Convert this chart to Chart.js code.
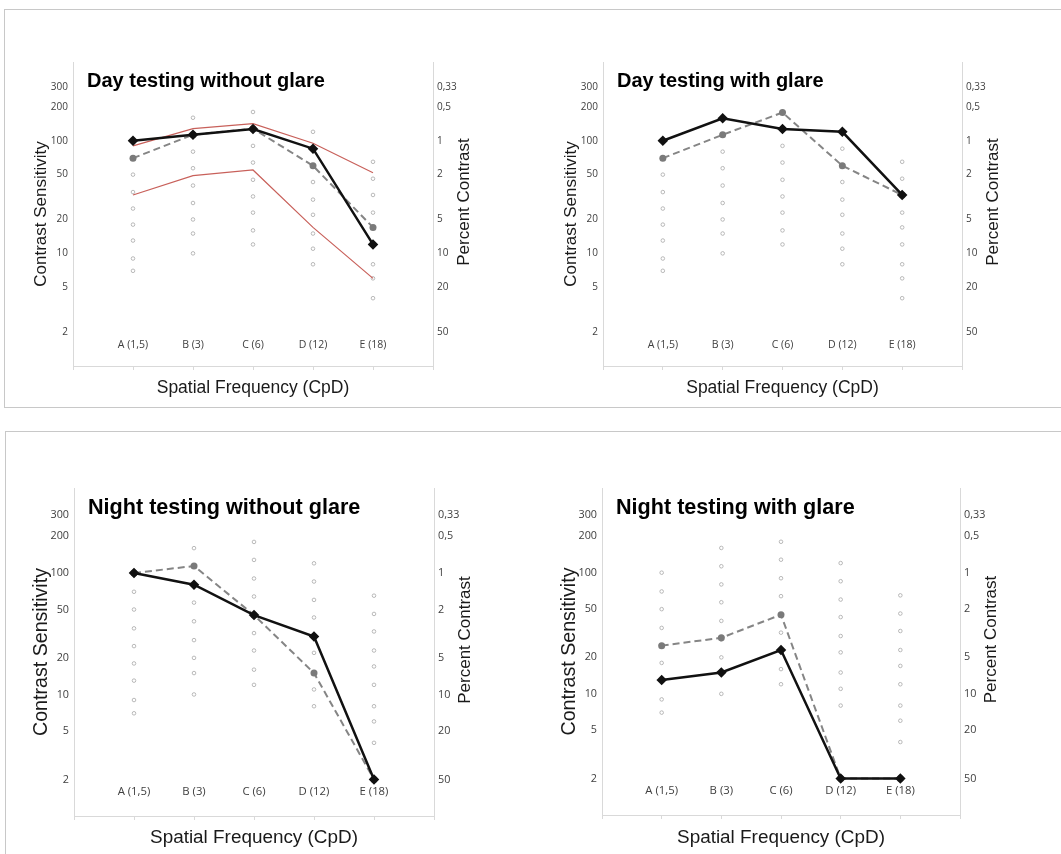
<!DOCTYPE html>
<html>
<head>
<meta charset="utf-8">
<script src="https://cdn.jsdelivr.net/npm/chart.js@4.4.0/dist/chart.umd.min.js"></script>
<style>
  html, body { margin: 0; padding: 0; background: #fff; overflow: hidden; }
  body { width: 1061px; height: 854px; position: relative; }
  .panel { position: absolute; border: 1px solid #c8c8c8; }
  canvas { position: absolute; }
</style>
</head>
<body>
<div class="panel" style="left:4px; top:9px; width:1080px; height:397px;"></div>
<div class="panel" style="left:5px; top:431px; width:1080px; height:450px;"></div>
<canvas id="dayNoGlare"></canvas>
<canvas id="dayGlare"></canvas>
<canvas id="nightNoGlare"></canvas>
<canvas id="nightGlare"></canvas>
<script>
// categories and axis labels
const categories = ['A (1,5)', 'B (3)', 'C (6)', 'D (12)', 'E (18)'];
const csTicks = [2, 5, 10, 20, 50, 100, 200, 300];
const pctLabels = ['50', '20', '10', '5', '2', '1', '0,5', '0,33'];

// patch levels of the test chart, one list per column
const levelsA = [100, 70, 50, 35, 25, 18, 13, 9, 7];
const levelsB = [160, 113, 80, 57, 40, 28, 20, 15, 10];
const levelsC = [180, 128, 90, 64, 45, 32, 23, 16, 12];
const levelsD = [120, 85, 60, 43, 30, 22, 15, 11, 8];
const levelsE = [65, 46, 33, 23, 17, 12, 8, 6, 4];

// measured contrast sensitivity (solid black / dashed grey)
const dayNoGlareSolid = [100, 113, 127, 85, 12];
const dayNoGlareDashed = [70, 113, 128, 60, 17];
const dayGlareSolid = [100, 158, 127, 120, 33];
const dayGlareDashed = [70, 113, 178, 60, 33];
const nightNoGlareSolid = [100, 80, 45, 30, 2];
const nightNoGlareDashed = [100, 114, 45, 15, 2];
const nightGlareSolid = [13, 15, 23, 2, 2];
const nightGlareDashed = [25, 29, 45, 2, 2];

// normal range (day testing without glare only)
const normUpper = [90, 128, 142, 95, 52];
const normLower = [33, 49, 55, 17, 6];

const FONT = '"Liberation Sans", Arial, sans-serif';
const TICK_FONT = '"Open Sans", "Liberation Sans", sans-serif';

function toPoints(values) {
    return values.map((v, i) => ({ x: i + 1, y: v }));
}

function levelPoints() {
    return [levelsA, levelsB, levelsC, levelsD, levelsE]
        .flatMap((col, i) => col.map(v => ({ x: i + 1, y: v })));
}

// title + right axis title (right title reads bottom-to-top like the left one)
const panelText = {
    id: 'panelText',
    afterDraw(chart, args, opts) {
        const { ctx, chartArea } = chart;
        ctx.save();
        ctx.fillStyle = '#000';
        ctx.font = 'bold ' + opts.titleSize + 'px ' + FONT;
        ctx.textAlign = 'left';
        ctx.textBaseline = 'alphabetic';
        ctx.fillText(opts.title, chartArea.left + 14, chartArea.top + opts.titleDrop);

        ctx.translate(chartArea.right + 31, (chartArea.top + chartArea.bottom) / 2 - 12);
        ctx.rotate(-Math.PI / 2);
        ctx.font = opts.rightSize + 'px ' + FONT;
        ctx.fillStyle = '#1a1a1a';
        ctx.textAlign = 'center';
        ctx.textBaseline = 'middle';
        ctx.fillText('Percent Contrast', 0, 0);
        ctx.restore();
    }
};

function makeChart(id, cfg) {
    const canvas = document.getElementById(id);
    const left = cfg.area.left - 63;
    const top = cfg.area.top - 22;
    const width = cfg.area.right - cfg.area.left + 63 + 50;
    const bottom = cfg.xTitleY + 16;
    const height = bottom - top;
    const xHeight = bottom - cfg.area.bottom;
    canvas.width = width;
    canvas.height = height;
    canvas.style.left = left + 'px';
    canvas.style.top = top + 'px';
    canvas.style.width = width + 'px';
    canvas.style.height = height + 'px';

    const datasets = [
        {
            data: toPoints(cfg.solid),
            borderColor: '#111',
            borderWidth: 2.5,
            pointStyle: 'rectRot',
            pointRadius: 3.5,
            pointBackgroundColor: '#111',
            pointBorderColor: '#111'
        },
        {
            data: toPoints(cfg.dashed),
            borderColor: '#858585',
            borderWidth: 2,
            borderDash: [7, 4],
            pointRadius: 3.5,
            pointBackgroundColor: '#7a7a7a',
            pointBorderColor: '#7a7a7a',
            pointBorderWidth: 0
        }
    ];
    (cfg.norms || []).forEach(n => datasets.push({
        data: toPoints(n),
        borderColor: '#c8605a',
        borderWidth: 1.2,
        pointRadius: 0
    }));
    datasets.push({
        data: levelPoints(),
        showLine: false,
        pointRadius: 1.8,
        pointBorderWidth: 0.8,
        pointBorderColor: '#a8a8a8',
        pointBackgroundColor: '#fff'
    });

    const fs = cfg.fontScale;
    const axisTitleSize = 17 * fs;
    const xTitleSize = 17.5 * fs;
    const tickFont = { family: TICK_FONT, size: 10 * fs };
    const setTicks = s => { s.ticks = csTicks.map(v => ({ value: v })); };

    return new Chart(canvas, {
        type: 'line',
        data: { datasets: datasets },
        plugins: [panelText],
        options: {
            responsive: false,
            animation: false,
            layout: { padding: { top: 22, left: 0, right: 0, bottom: 0 } },
            elements: { line: { tension: 0 } },
            plugins: {
                legend: { display: false },
                tooltip: { enabled: false },
                panelText: {
                    title: cfg.title,
                    titleSize: 20 * cfg.titleScale,
                    titleDrop: cfg.titleDrop,
                    rightSize: 17
                }
            },
            scales: {
                x: {
                    type: 'linear',
                    min: 0,
                    max: categories.length + 1,
                    afterBuildTicks: s => {
                        s.ticks = Array.from({ length: categories.length + 2 }, (_, i) => ({ value: i }));
                    },
                    afterFit: s => { s.height = xHeight; },
                    ticks: {
                        autoSkip: false,
                        maxRotation: 0,
                        mirror: true,
                        padding: cfg.catPad,
                        color: '#404040',
                        font: { family: TICK_FONT, size: 10.5 * fs },
                        callback: v => categories[v - 1] || ''
                    },
                    grid: { drawOnChartArea: false, drawTicks: true, tickLength: 4, color: '#d9d9d9' },
                    border: { color: '#d9d9d9' },
                    title: {
                        display: true,
                        text: 'Spatial Frequency (CpD)',
                        color: '#1a1a1a',
                        font: { family: FONT, size: xTitleSize },
                        padding: { top: 0, bottom: 16 - xTitleSize * 0.6 }
                    }
                },
                y: {
                    type: 'logarithmic',
                    position: 'left',
                    min: 1,
                    max: 500,
                    afterBuildTicks: setTicks,
                    afterFit: s => { s.width = 63; },
                    ticks: {
                        padding: 5,
                        color: '#404040',
                        font: tickFont,
                        callback: v => String(v)
                    },
                    grid: { drawOnChartArea: false, drawTicks: false },
                    border: { color: '#d9d9d9' },
                    title: {
                        display: true,
                        text: 'Contrast Sensitivity',
                        color: '#1a1a1a',
                        font: { family: FONT, size: axisTitleSize * cfg.leftScale },
                        padding: { top: 31 - axisTitleSize * cfg.leftScale * 0.6, bottom: 0 }
                    }
                },
                y2: {
                    type: 'logarithmic',
                    position: 'right',
                    min: 1,
                    max: 500,
                    afterBuildTicks: setTicks,
                    afterFit: s => { s.width = 50; },
                    ticks: {
                        padding: 4,
                        color: '#404040',
                        font: tickFont,
                        callback: (v, i) => pctLabels[i]
                    },
                    grid: { drawOnChartArea: false, drawTicks: false },
                    border: { color: '#d9d9d9' }
                }
            }
        }
    });
}

makeChart('dayNoGlare', {
    area: { left: 73, right: 433, top: 62, bottom: 366 },
    xTitleY: 388,
    title: 'Day testing without glare',
    solid: dayNoGlareSolid,
    dashed: dayNoGlareDashed,
    norms: [normUpper, normLower],
    fontScale: 1, titleScale: 1, leftScale: 1, titleDrop: 25, catPad: 15
});
makeChart('dayGlare', {
    area: { left: 603, right: 962, top: 62, bottom: 366 },
    xTitleY: 388,
    title: 'Day testing with glare',
    solid: dayGlareSolid,
    dashed: dayGlareDashed,
    fontScale: 1, titleScale: 1, leftScale: 1, titleDrop: 25, catPad: 15
});
makeChart('nightNoGlare', {
    area: { left: 74, right: 434, top: 488, bottom: 816 },
    xTitleY: 838,
    title: 'Night testing without glare',
    solid: nightNoGlareSolid,
    dashed: nightNoGlareDashed,
    fontScale: 1.08, titleScale: 1.08, leftScale: 1.07, titleDrop: 26, catPad: 17
});
makeChart('nightGlare', {
    area: { left: 602, right: 960, top: 488, bottom: 815 },
    xTitleY: 838,
    title: 'Night testing with glare',
    solid: nightGlareSolid,
    dashed: nightGlareDashed,
    fontScale: 1.08, titleScale: 1.08, leftScale: 1.07, titleDrop: 26, catPad: 17
});
</script>
</body>
</html>
